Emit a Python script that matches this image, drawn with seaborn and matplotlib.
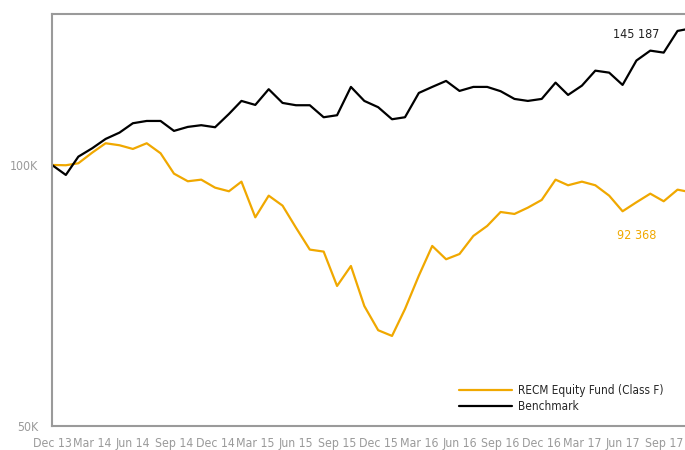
import matplotlib
matplotlib.use("Agg")
import matplotlib.pyplot as plt
import matplotlib.dates as mdates
from matplotlib.ticker import FixedLocator, FixedFormatter, NullLocator
import seaborn as sns
import pandas as pd

FUND = "RECM Equity Fund (Class F)"
BENCH = "Benchmark"
ORANGE = "#F0A800"
GREY = "#9a9a9a"

# month-end dates, Dec 2013 .. Dec 2017
dates = pd.date_range("2013-12-31", "2017-12-31", freq="ME")

fund_values = [
    100000, 99920, 100450, 103320, 105930, 105370, 104340, 105930, 103150, 97720,
    95760, 96170, 94150, 93250, 95660, 87020, 92170, 89760, 84660, 79870,
    79450, 72520, 76470, 68760, 64480, 63510, 68210, 74530, 80650, 77850,
    78940, 82820, 85050, 88260, 87800, 89280, 91130, 96170, 94750, 95660,
    94750, 92170, 88430, 90570, 92660, 90810, 93650, 93000, 92368,
]
bench_values = [
    100000, 97380, 102230, 104530, 107150, 108960, 111710, 112390, 112390, 109460,
    110630, 111130, 110530, 114500, 118530, 117280, 122270, 117900, 117180, 117180,
    113500, 114110, 123020, 118530, 116570, 112900, 113500, 121070, 123020, 124990,
    121720, 123020, 123020, 121630, 119160, 118530, 119160, 124430, 120430, 123440,
    128450, 127770, 123670, 131950, 135460, 134750, 142740, 143700, 145187,
]

tick_dates = pd.date_range("2013-12-31", "2017-09-30", freq="3ME")
y_ticks = [50000, 100000]
y_tick_labels = ["50K", "100K"]

df = pd.DataFrame({"date": dates, FUND: fund_values, BENCH: bench_values})
long_df = df.melt(id_vars="date", var_name="series", value_name="value")

sns.set_style("white")
plt.rcParams["font.family"] = ["DejaVu Sans"]
plt.rcParams["font.stretch"] = "condensed"

fig = plt.figure(figsize=(6.85, 4.5), dpi=100)
ax = fig.add_axes([0.0759, 0.0533, 0.953, 0.9156])

sns.lineplot(
    data=long_df, x="date", y="value", hue="series",
    palette={FUND: ORANGE, BENCH: "black"},
    hue_order=[FUND, BENCH], linewidth=1.6, ax=ax,
)

ax.set_yscale("log")
ax.set_ylim(50000, 149300)
ax.set_xlim(dates[0], dates[-1])
ax.yaxis.set_major_locator(FixedLocator(y_ticks))
ax.yaxis.set_major_formatter(FixedFormatter(y_tick_labels))
ax.yaxis.set_minor_locator(NullLocator())
ax.set_xticks(tick_dates)
ax.xaxis.set_major_formatter(mdates.DateFormatter("%b %y"))
ax.tick_params(axis="both", length=0, labelsize=8.8, labelcolor=GREY)
ax.tick_params(axis="y", pad=10)
ax.tick_params(axis="x", pad=8)
ax.set_xlabel("")
ax.set_ylabel("")

for side in ["left", "top", "bottom", "right"]:
    ax.spines[side].set_color(GREY)
    ax.spines[side].set_linewidth(1.5)

# end-value labels
ax.text(dates[-6], 141400, "145 187", color="#222222",
        fontsize=9, ha="center", va="center")
ax.text(dates[-6], 82900, "92 368", color=ORANGE,
        fontsize=9, ha="center", va="center")

ax.legend(loc="lower left", bbox_to_anchor=(0.607, 0.005), frameon=False,
          fontsize=8.5, handlelength=4.5, handletextpad=0.5, labelspacing=0.3)

fig.savefig("out.png", dpi=100)
